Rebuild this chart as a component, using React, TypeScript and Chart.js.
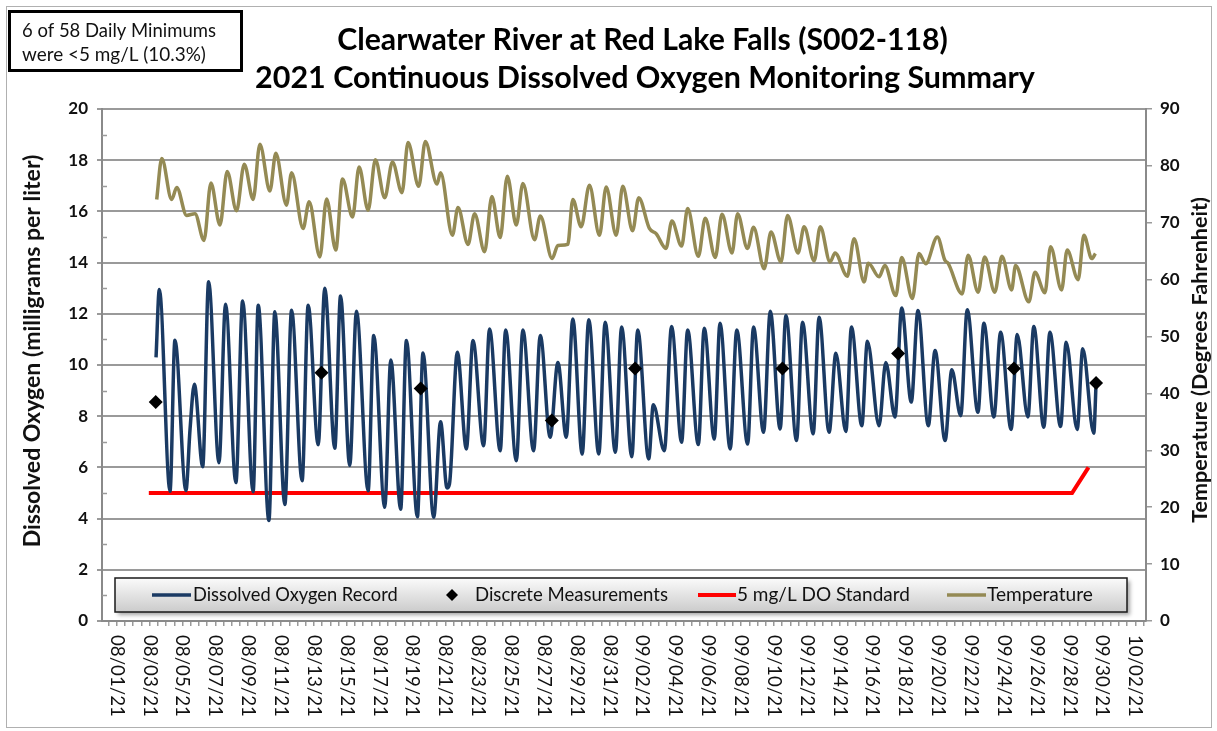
import React, { useEffect, useRef } from "react";
import { Chart, registerables } from "chart.js";

Chart.register(...registerables);

// ---------------- data ----------------
const TITLE_LINES = [
  "Clearwater River at Red Lake Falls (S002-118)",
  "2021 Continuous Dissolved Oxygen Monitoring Summary",
];
const NOTE_LINES = ["6 of 58 Daily Minimums", "were <5 mg/L (10.3%)"];
const Y_LEFT_TITLE = "Dissolved Oxygen (milligrams per liter)";
const Y_RIGHT_TITLE = "Temperature (Degrees Fahrenheit)";
const LEGEND_LABELS = [
  "Dissolved Oxygen Record",
  "Discrete Measurements",
  "5 mg/L DO Standard",
  "Temperature",
];

// x values are days after 08/01/21 00:00
const X_TICK_DAYS = [0, 2, 4, 6, 8, 10, 12, 14, 16, 18, 20, 22, 24, 26, 28, 30, 32, 34, 36, 38, 40, 42, 44, 46, 48, 50, 52, 54, 56, 58, 60, 62];
const X_TICK_LABELS = [
  "08/01/21", "08/03/21", "08/05/21", "08/07/21", "08/09/21", "08/11/21", "08/13/21", "08/15/21",
  "08/17/21", "08/19/21", "08/21/21", "08/23/21", "08/25/21", "08/27/21", "08/29/21", "08/31/21",
  "09/02/21", "09/04/21", "09/06/21", "09/08/21", "09/10/21", "09/12/21", "09/14/21", "09/16/21",
  "09/18/21", "09/20/21", "09/22/21", "09/24/21", "09/26/21", "09/28/21", "09/30/21", "10/02/21",
];

// Dissolved oxygen record (daily highs / lows), mg/L
const DO_DAYS = [
  2.39, 2.59, 3.24, 3.54, 4.21, 4.46, 4.72, 5.23, 5.59, 6.22, 6.62, 7.25, 7.66, 8.3, 8.61, 9.26, 9.62,
  10.23, 10.64, 11.28, 11.65, 12.26, 12.66, 13.27, 13.62, 14.18, 14.59, 15.3, 15.64, 16.31, 16.68,
  17.28, 17.63, 18.3, 18.64, 19.29, 19.71, 20.1, 20.25, 20.73, 21.28, 21.68, 22.33, 22.69, 23.34,
  23.67, 24.32, 24.72, 25.37, 25.78, 26.38, 26.85, 27.36, 27.76, 28.33, 28.73, 29.34, 29.73, 30.35,
  30.73, 31.35, 31.71, 32.38, 32.66, 33.33, 33.77, 34.38, 34.75, 35.4, 35.76, 36.37, 36.72, 37.34,
  37.74, 38.4, 38.76, 39.37, 39.78, 40.38, 40.73, 41.38, 41.74, 42.39, 42.75, 43.36, 43.77, 44.38,
  44.72, 45.35, 45.69, 46.4, 46.81, 47.37, 47.78, 48.36, 48.77, 49.4, 49.81, 50.42, 50.83, 51.37,
  51.77, 52.42, 52.78, 53.39, 53.8, 54.44, 54.81, 55.46, 55.82, 56.43, 56.8, 57.45, 57.79, 58.46,
  58.8, 59.47, 59.61,
];
const DO_VALUES = [
  10.3, 12.95, 5.07, 10.97, 5.1, 7.5, 9.25, 6.03, 13.25, 6.18, 12.37, 5.41, 12.5, 5.05, 12.33, 3.93, 12.08,
  4.55, 12.14, 5.48, 12.33, 6.88, 13.0, 6.75, 12.7, 6.07, 12.1, 5.09, 11.15, 4.44, 10.2,
  4.37, 10.96, 4.07, 10.47, 4.05, 7.78, 5.2, 5.35, 10.5, 6.72, 10.96, 6.85, 11.41, 6.65,
  11.37, 6.26, 11.37, 6.65, 11.15, 7.18, 10.1, 7.18, 11.8, 6.52, 11.77, 6.52, 11.67, 6.59,
  11.48, 6.42, 11.37, 6.33, 8.45, 6.65, 11.5, 6.98, 11.37, 6.89, 11.44, 7.11, 11.63, 6.72,
  11.37, 6.91, 11.48, 7.37, 12.1, 7.5, 11.93, 7.05, 11.67, 7.31, 11.87, 7.37, 10.46, 7.4,
  11.48, 7.63, 10.93, 7.63, 10.1, 7.97, 12.23, 8.55, 12.13, 7.63, 10.57, 7.05, 9.81, 8.02,
  12.16, 8.15, 11.63, 7.97, 11.28, 7.48, 11.19, 7.97, 11.5, 7.57, 11.28, 7.6, 10.89, 7.48,
  10.63, 7.33, 9.26,
];

// Temperature record, degrees F
const TEMP_DAYS = [
  2.43, 2.74, 3.34, 3.65, 4.25, 4.76, 5.31, 5.73, 6.28, 6.72, 7.29, 7.76, 8.3, 8.71, 9.32, 9.68,
  10.33, 10.64, 11.34, 11.71, 12.36, 12.77, 13.33, 13.74, 14.35, 14.75, 15.3, 15.74, 16.31, 16.78,
  17.36, 17.73, 18.38, 18.78, 19.49, 19.71, 20.43, 20.77, 21.38, 21.78, 22.39, 22.83, 23.34, 23.77,
  24.32, 24.72, 25.43, 25.78, 26.5, 26.85, 27.45, 27.76, 28.27, 28.77, 29.38, 29.79, 30.4, 30.8,
  31.4, 31.77, 32.42, 32.83, 33.43, 33.79, 34.38, 34.75, 35.4, 35.82, 36.43, 36.84, 37.45, 37.79,
  38.39, 38.76, 39.41, 39.82, 40.43, 40.83, 41.47, 41.84, 42.45, 42.82, 43.42, 43.72, 44.47, 44.88,
  45.49, 45.75, 46.4, 46.75, 47.42, 47.78, 48.43, 48.83, 49.24, 49.95, 50.41, 50.6, 51.46, 51.82,
  52.43, 52.83, 53.44, 53.88, 54.47, 54.71, 55.52, 55.89, 56.5, 56.84, 57.51, 57.85, 58.52, 58.87,
  59.35, 59.57,
];
const TEMP_VALUES = [
  74.1, 81.3, 74.1, 76.2, 71.3, 71.6, 66.9, 77.0, 69.6, 79.0, 72.1, 80.3, 74.1, 83.8, 75.6, 82.2,
  73.1, 78.8, 69.0, 73.7, 64.0, 74.2, 65.2, 77.7, 71.0, 79.8, 72.2, 81.1, 74.4, 80.7,
  75.3, 84.1, 76.4, 84.3, 76.8, 78.8, 67.8, 72.7, 66.2, 71.6, 64.9, 74.6, 67.4, 78.2,
  69.6, 76.9, 67.0, 71.2, 63.7, 66.0, 66.2, 74.1, 69.3, 76.6, 67.8, 76.3, 67.8, 76.4,
  68.6, 74.4, 69.0, 68.1, 65.5, 70.3, 65.9, 72.5, 64.1, 70.8, 63.9, 71.5, 64.7, 71.6,
  65.5, 69.2, 61.9, 68.4, 63.1, 71.3, 64.7, 69.3, 63.3, 69.3, 63.1, 64.7, 60.6, 67.2,
  59.6, 62.9, 60.5, 62.5, 57.2, 63.9, 56.7, 64.6, 62.8, 67.5, 63.4, 62.9, 57.5, 64.3,
  57.8, 64.0, 57.8, 64.1, 58.2, 62.5, 56.1, 61.3, 57.7, 65.8, 58.2, 65.2, 60.0, 67.8,
  63.7, 64.6,
];

// Discrete field measurements, mg/L
const DISCRETE_DAYS = [2.37, 12.46, 18.5, 26.48, 31.55, 40.52, 47.56, 54.61, 59.61];
const DISCRETE_VALUES = [8.55, 9.7, 9.08, 7.83, 9.86, 9.86, 10.45, 9.86, 9.3];

// 5 mg/L standard line
const STD_DAYS = [1.95, 58.15, 59.15];
const STD_VALUES = [5, 5, 6];

// ---------------- styles ----------------
const FONT = "Lato, 'Noto Sans', sans-serif";
const DO_COLOR = "#1a3a63";
const TEMP_COLOR = "#948a54";
const STD_COLOR = "#ff0000";
const GRID_COLOR = "#9a9a9a";
const AXIS_COLOR = "#8a8a8a";

const pts = (xs: number[], ys: number[]) => xs.map((x, i) => ({ x, y: ys[i] }));

function fitSize(ctx: CanvasRenderingContext2D, text: string, weight: string, target: number) {
  ctx.font = `${weight} 100px ${FONT}`;
  const w = ctx.measureText(text).width;
  return (100 * target) / w;
}

function drawText(
  ctx: CanvasRenderingContext2D,
  text: string,
  weight: string,
  width: number,
  x: number,
  y: number,
  align: CanvasTextAlign,
  rot = 0,
  color = "#000"
) {
  const size = fitSize(ctx, text, weight, width);
  ctx.save();
  ctx.translate(x, y);
  if (rot) ctx.rotate(rot);
  ctx.font = `${weight} ${size}px ${FONT}`;
  ctx.fillStyle = color;
  ctx.textAlign = align;
  ctx.textBaseline = "middle";
  ctx.fillText(text, 0, 0);
  ctx.restore();
}

const decorPlugin = {
  id: "decor",
  afterDraw(chart: any) {
    const { ctx, chartArea, scales } = chart;
    const xs = scales.x;
    const ys = scales.y;
    ctx.save();

    // minor ticks on the left axis (inside)
    ctx.strokeStyle = GRID_COLOR;
    ctx.lineWidth = 1.5;
    for (let v = 1; v < 20; v += 2) {
      const py = Math.round(ys.getPixelForValue(v)) + 0.5;
      ctx.beginPath();
      ctx.moveTo(chartArea.left, py);
      ctx.lineTo(chartArea.left + 5, py);
      ctx.stroke();
    }

    // x tick labels, rotated clockwise
    X_TICK_DAYS.forEach((d, i) => {
      const px = xs.getPixelForValue(d);
      drawText(ctx, X_TICK_LABELS[i], "normal", 82, px, 635, "left", Math.PI / 2, "#111");
    });

    // axis titles
    drawText(ctx, Y_LEFT_TITLE, "bold", 393, 33, 351, "center", -Math.PI / 2, "#111");
    drawText(ctx, Y_RIGHT_TITLE, "bold", 326, 1200, 360, "center", -Math.PI / 2, "#111");

    // chart title
    drawText(ctx, TITLE_LINES[0], "bold", 611, 642.5, 40, "center");
    drawText(ctx, TITLE_LINES[1], "bold", 780, 645, 78, "center");

    // note box
    ctx.strokeStyle = "#000";
    ctx.lineWidth = 3;
    ctx.strokeRect(9.5, 11.5, 232, 59);
    drawText(ctx, NOTE_LINES[0], "normal", 194, 22, 31, "left", 0, "#111");
    drawText(ctx, NOTE_LINES[1], "normal", 184, 22, 55, "left", 0, "#111");

    // legend box
    const lx = 115, ly = 578, lw = 1012, lh = 34;
    ctx.save();
    ctx.shadowColor = "rgba(0,0,0,0.35)";
    ctx.shadowOffsetX = 3;
    ctx.shadowOffsetY = 3;
    ctx.shadowBlur = 4;
    const g = ctx.createLinearGradient(0, ly, 0, ly + lh);
    g.addColorStop(0, "#fbfbfb");
    g.addColorStop(1, "#cbcbcb");
    ctx.fillStyle = g;
    ctx.fillRect(lx, ly, lw, lh);
    ctx.restore();
    ctx.strokeStyle = "#1a1a1a";
    ctx.lineWidth = 1.5;
    ctx.strokeRect(lx, ly, lw, lh);
    const cy = ly + lh / 2;
    ctx.lineCap = "butt";
    const legLine = (x0: number, x1: number, color: string, w: number) => {
      ctx.strokeStyle = color;
      ctx.lineWidth = w;
      ctx.beginPath();
      ctx.moveTo(x0, cy);
      ctx.lineTo(x1, cy);
      ctx.stroke();
    };
    legLine(152, 191, DO_COLOR, 3.5);
    drawText(ctx, LEGEND_LABELS[0], "normal", 205, 193, cy, "left", 0, "#111");
    ctx.fillStyle = "#000";
    ctx.beginPath();
    ctx.moveTo(452, cy - 6);
    ctx.lineTo(458, cy);
    ctx.lineTo(452, cy + 6);
    ctx.lineTo(446, cy);
    ctx.closePath();
    ctx.fill();
    drawText(ctx, LEGEND_LABELS[1], "normal", 193, 475, cy, "left", 0, "#111");
    legLine(698, 736, STD_COLOR, 4);
    drawText(ctx, LEGEND_LABELS[2], "normal", 173, 737, cy, "left", 0, "#111");
    legLine(947, 986, TEMP_COLOR, 3.5);
    drawText(ctx, LEGEND_LABELS[3], "normal", 106, 987, cy, "left", 0, "#111");

    // outer chart border
    ctx.strokeStyle = "#b0b0b0";
    ctx.lineWidth = 1;
    ctx.strokeRect(6.5, 6.5, 1205, 721);

    ctx.restore();
  },
};

export default function App() {
  const ref = useRef<HTMLCanvasElement | null>(null);

  useEffect(() => {
    document.body.style.margin = "0";
    const canvas = ref.current!;
    const halfDays: number[] = [];
    for (let k = -1; k <= 125; k++) halfDays.push(k * 0.5);

    const chart = new Chart(canvas, {
      type: "line",
      data: {
        datasets: [
          {
            label: LEGEND_LABELS[1],
            data: pts(DISCRETE_DAYS, DISCRETE_VALUES),
            yAxisID: "y",
            showLine: false,
            pointStyle: "rectRot",
            pointRadius: 7,
            pointBackgroundColor: "#000",
            pointBorderColor: "#000",
            pointBorderWidth: 0,
          },
          {
            label: LEGEND_LABELS[0],
            data: pts(DO_DAYS, DO_VALUES),
            yAxisID: "y",
            borderColor: DO_COLOR,
            borderWidth: 3.5,
            pointRadius: 0,
            cubicInterpolationMode: "monotone",
            borderJoinStyle: "round",
          },
          {
            label: LEGEND_LABELS[2],
            data: pts(STD_DAYS, STD_VALUES),
            yAxisID: "y",
            borderColor: STD_COLOR,
            borderWidth: 4,
            pointRadius: 0,
            tension: 0,
          },
          {
            label: LEGEND_LABELS[3],
            data: pts(TEMP_DAYS, TEMP_VALUES),
            yAxisID: "yT",
            borderColor: TEMP_COLOR,
            borderWidth: 3.5,
            pointRadius: 0,
            cubicInterpolationMode: "monotone",
            borderJoinStyle: "round",
          },
        ],
      },
      options: {
        responsive: false,
        animation: false,
        devicePixelRatio: 1,
        layout: { padding: { top: 109, left: 0, right: 0, bottom: 0 } },
        plugins: {
          legend: { display: false },
          tooltip: { enabled: false },
          title: { display: false },
        },
        scales: {
          x: {
            type: "linear",
            min: -0.9,
            max: 62.65,
            afterBuildTicks: (s: any) => {
              s.ticks = halfDays.filter((v) => v >= s.min && v <= s.max).map((v) => ({ value: v }));
            },
            afterFit: (s: any) => {
              s.height = 110;
            },
            ticks: { display: false, autoSkip: false },
            grid: { drawOnChartArea: false, drawTicks: true, tickLength: 5, color: GRID_COLOR, lineWidth: 1.5 },
            border: { display: true, color: AXIS_COLOR, width: 2 },
          },
          y: {
            position: "left",
            min: 0,
            max: 20,
            ticks: { stepSize: 2, padding: 9, color: "#111", font: { family: FONT, size: 17, weight: "bold" } },
            afterFit: (s: any) => {
              s.width = 102;
            },
            grid: { color: GRID_COLOR, lineWidth: 2, drawTicks: true, tickLength: 5 },
            border: { display: true, color: AXIS_COLOR, width: 2 },
          },
          yT: {
            position: "right",
            min: 0,
            max: 90,
            ticks: { stepSize: 10, padding: 8, color: "#111", font: { family: FONT, size: 17, weight: "bold" } },
            afterFit: (s: any) => {
              s.width = 71;
            },
            grid: { drawOnChartArea: false, drawTicks: true, tickLength: 6, color: GRID_COLOR, lineWidth: 1.5 },
            border: { display: true, color: AXIS_COLOR, width: 2 },
          },
        },
      },
      plugins: [decorPlugin],
    } as any);

    return () => chart.destroy();
  }, []);

  return <canvas ref={ref} width={1217} height={731} style={{ display: "block", width: 1217, height: 731 }} />;
}
